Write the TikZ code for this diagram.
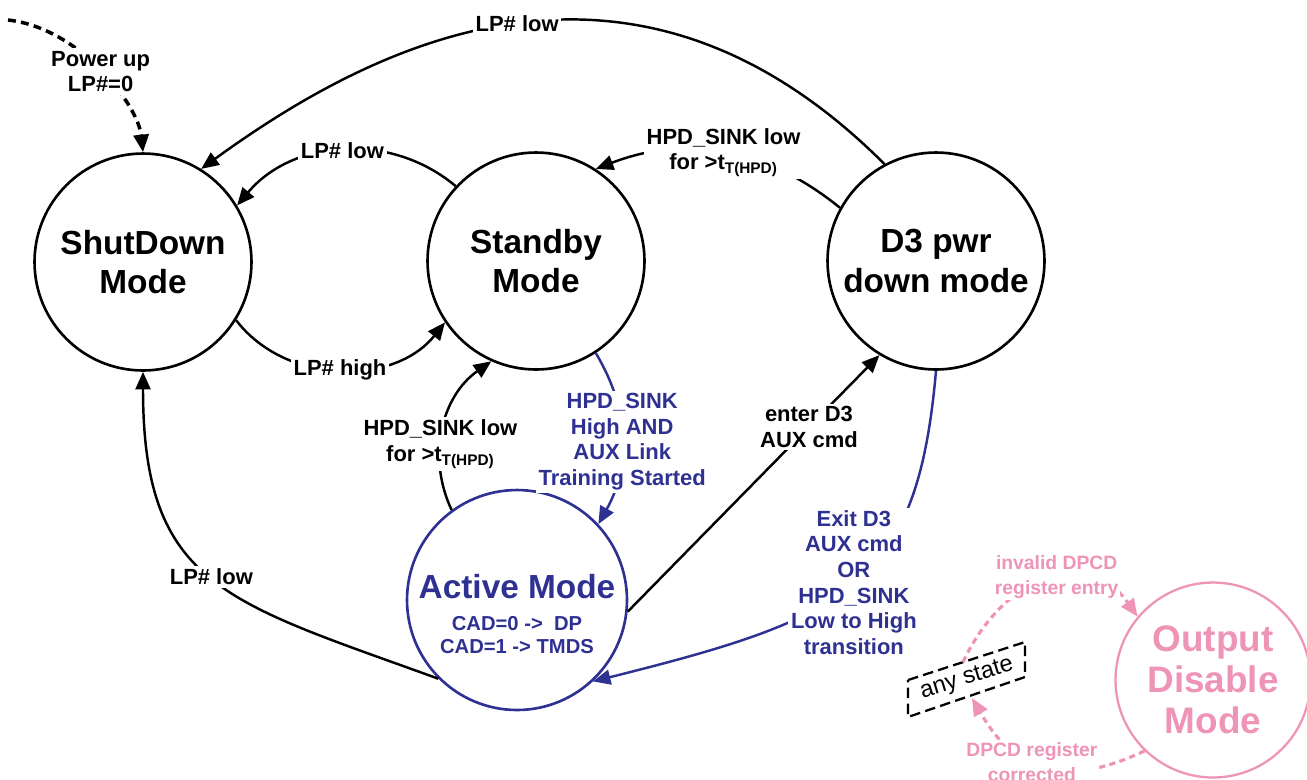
\documentclass[tikz,border=0pt]{standalone}
\usepackage{fontspec}
\setmainfont{Liberation Sans}
\usepackage{tikz}
\usetikzlibrary{arrows.meta}
\definecolor{stblue}{HTML}{2E3192}
\definecolor{odpink}{HTML}{EE94B7}

\begin{document}
\begin{tikzpicture}[x=0.02cm, y=0.02cm, >={Triangle[length=10pt,width=8.5pt]},
    modenode/.style={circle, draw, line width=1.5pt, minimum size=4.34cm, inner sep=0pt, align=center, font=\fontsize{19}{22.7}\selectfont\bfseries},
    trans/.style={line width=1.4pt, ->},
    translbl/.style={fill=white, inner sep=1.5pt, align=center, font=\fontsize{12.5}{14.6}\selectfont\bfseries},
    pinklbl/.style={fill=white, inner sep=1pt, align=center, text=odpink, font=\fontsize{11}{14}\selectfont\bfseries},
    pinkdash/.style={odpink, line width=1.8pt, dash pattern=on 3.5pt off 2.5pt, ->}]
    \useasboundingbox (0,0) rectangle (1307,-779);

    \node[modenode] (sd) at (143,-262) {ShutDown\\Mode};
    \node[modenode] (sb) at (536,-261) {Standby\\Mode};
    \node[modenode] (d3) at (936,-261) {D3 pwr\\down mode};
    \node[modenode, stblue, minimum size=4.4cm] (act) at (517,-600) {};
    \node[stblue, align=center, font=\fontsize{11.5}{13}\selectfont\bfseries] (acttxt) at (517,-614)
        {{\fontsize{19}{22}\selectfont Active Mode}\\[5pt]CAD=0 -> \ DP\\CAD=1 -> TMDS};
    \node[modenode, odpink, line width=1.3pt, minimum size=3.9cm, font=\fontsize{21}{23.3}\selectfont\bfseries] (odm) at (1213,-680) {Output\\Disable\\Mode};

    % power up entry
    \coordinate (pwr) at (8,-20);
    \draw[line width=2pt, dash pattern=on 4.5pt off 3pt, ->] (pwr) .. controls (80,-28) and (138,-105) .. (sd.north)
        node[translbl, pos=0.5] {Power up\\LP\#=0};

    \draw[trans] (d3.118) .. controls +(135:352) and +(36:223) .. (sd.58) node[translbl, pos=0.5] {LP\# low};
    \draw[trans] (sb.137) to[bend right=45] node[translbl] {LP\# low} (sd.31);
    \draw[trans] (sd.-32) to[bend right=52] node[translbl] {LP\# high} (sb.214);
    \draw[trans] (d3.151) to[bend right=30] node[translbl] {HPD\_SINK low\\for >t\textsubscript{T(HPD)}} (sb.57);
    \draw[trans] (act.126) to[bend left=40] node[translbl, pos=0.4] {HPD\_SINK low\\for >t\textsubscript{T(HPD)}} (sb.246);
    \draw[trans, stblue] (sb.-57) to[bend left=30] node[translbl, pos=0.52] {HPD\_SINK\\High AND\\AUX Link\\Training Started} (act.43);
    \draw[trans] (act.-6) -- (d3.239) node[translbl, pos=0.72] {enter D3\\AUX cmd};
    \draw[trans, stblue] (d3.270) .. controls +(-95:215) and +(14:265) .. (act.-47)
        node[translbl, pos=0.5] {Exit D3\\AUX cmd\\OR\\HPD\_SINK\\Low to High\\transition};
    \draw[trans] (act.225) .. controls +(160:225) and +(-90:215) .. (sd.south) node[translbl, pos=0.5] {LP\# low};

    % output disable from any state
    \node[rotate=17, font=\fontsize{13.5}{15}\selectfont] (any) at (967,-679) {any state};
    \draw[line width=1.3pt, dash pattern=on 6pt off 3pt] (908,-680) -- (1025,-642) -- (1025,-677) -- (908,-717) -- cycle;
    \coordinate (anytop) at (963,-662);
    \coordinate (anybot) at (972,-698);
    \draw[pinkdash] (anytop) to[out=65, in=125, looseness=1.3] node[pinklbl, pos=0.56] {invalid DPCD\\register entry} (odm.140);
    \draw[pinkdash] (odm.226) to[out=205, in=-60, looseness=1.25] node[pinklbl, pos=0.58] {DPCD register\\corrected} (anybot);
\end{tikzpicture}
\end{document}
